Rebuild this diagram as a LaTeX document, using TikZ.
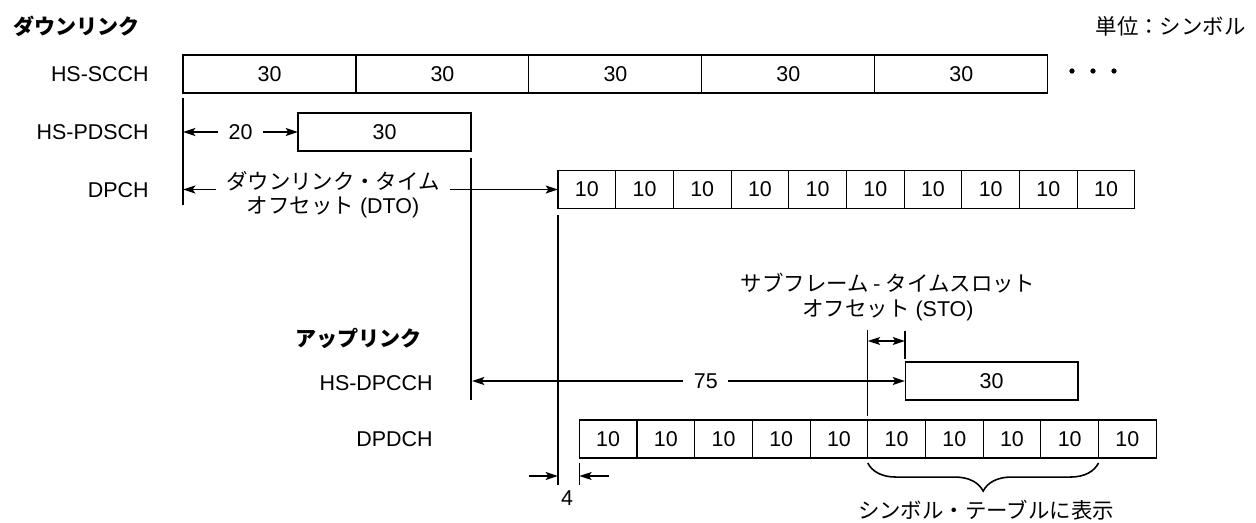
\documentclass[tikz,border=0pt]{standalone}
\usepackage{fontspec}
\setmainfont{Liberation Sans}
\newfontfamily\cjk{Noto Sans CJK JP}
\usetikzlibrary{arrows.meta,positioning,decorations.pathreplacing}

\begin{document}
\begin{tikzpicture}[
    x=0.02cm, y=-0.02cm,
    font=\fontsize{12.2}{14}\selectfont,
    % Stili
    longslot/.style={
        rectangle, draw, line width=0.6pt,
        minimum width=3.46cm, minimum height=0.76cm,
        inner sep=0pt, outer sep=0pt
    },
    shortslot/.style={
        rectangle, draw, line width=0.6pt,
        minimum width=1.154cm, minimum height=0.76cm,
        inner sep=0pt, outer sep=0pt
    },
    chname/.style={anchor=east, inner sep=0pt},
    heading/.style={anchor=west, inner sep=0pt, font=\fontsize{12}{14}\selectfont\cjk\bfseries},
    guide/.style={line width=0.6pt},
    dimarrow/.style={
        {Stealth[length=7pt,width=4.5pt,inset=1.5pt]}-{Stealth[length=7pt,width=4.5pt,inset=1.5pt]},
        line width=1pt
    },
    onearrow/.style={-{Stealth[length=7pt,width=4.5pt,inset=1.5pt]}, line width=1pt},
    dimlabel/.style={fill=white, inner sep=6pt, align=center}
]
\useasboundingbox (0,0) rectangle (1256,523);

% Titoli
\node[heading] (downlink) at (13,26) {ダウンリンク};
\node[heading] (uplink) at (295,338) {アップリンク};
\node[anchor=east, inner sep=0pt] (unit) at (1246,26) {\cjk 単位：シンボル};

% Nomi dei canali
\node[chname] (lbl1) at (149,74) {HS-SCCH};
\node[chname] (lbl2) at (149,132) {HS-PDSCH};
\node[chname] (lbl3) at (149,190) {DPCH};
\node[chname] (lbl4) at (433,383) {HS-DPCCH};
\node[chname] (lbl5) at (433,439) {DPDCH};

% HS-SCCH
\node[longslot] (hsscch1) at (269.5,74) {30};
\node[longslot, right=0pt of hsscch1] (hsscch2) {30};
\node[longslot, right=0pt of hsscch2] (hsscch3) {30};
\node[longslot, right=0pt of hsscch3] (hsscch4) {30};
\node[longslot, right=0pt of hsscch4] (hsscch5) {30};
\fill (1072,71) circle (1.5pt) (1093,71) circle (1.5pt) (1114,71) circle (1.5pt);

% HS-PDSCH
\node[longslot] (hspdsch) at (384.5,132) {30};

% DPCH
\node[shortslot] (dpch1) at (586.85,189.5) {10};
\node[shortslot, right=0pt of dpch1] (dpch2) {10};
\node[shortslot, right=0pt of dpch2] (dpch3) {10};
\node[shortslot, right=0pt of dpch3] (dpch4) {10};
\node[shortslot, right=0pt of dpch4] (dpch5) {10};
\node[shortslot, right=0pt of dpch5] (dpch6) {10};
\node[shortslot, right=0pt of dpch6] (dpch7) {10};
\node[shortslot, right=0pt of dpch7] (dpch8) {10};
\node[shortslot, right=0pt of dpch8] (dpch9) {10};
\node[shortslot, right=0pt of dpch9] (dpch10) {10};

% HS-DPCCH
\node[longslot] (hsdpcch) at (991.5,381) {30};

% DPDCH
\node[shortslot] (dpdch1) at (608.15,439) {10};
\node[shortslot, right=0pt of dpdch1] (dpdch2) {10};
\node[shortslot, right=0pt of dpdch2] (dpdch3) {10};
\node[shortslot, right=0pt of dpdch3] (dpdch4) {10};
\node[shortslot, right=0pt of dpdch4] (dpdch5) {10};
\node[shortslot, right=0pt of dpdch5] (dpdch6) {10};
\node[shortslot, right=0pt of dpdch6] (dpdch7) {10};
\node[shortslot, right=0pt of dpdch7] (dpdch8) {10};
\node[shortslot, right=0pt of dpdch8] (dpdch9) {10};
\node[shortslot, right=0pt of dpdch9] (dpdch10) {10};

% Linee di riferimento
\draw[guide] (183,98) -- (183,205);
\draw[guide] (471,158) -- (471,400);
\draw[guide] (558,215) -- (558,485);
\draw[guide] (579.3,463) -- (579.3,485);
\draw[guide] (867.8,330) -- (867.8,416);
\draw[guide] (905,331) -- (905,359);

% Punti delle quote
\coordinate (pdsch0) at (183,132);
\coordinate (dto0) at (183,189.5);
\coordinate (hs0) at (472,381);
\coordinate (sto0) at (867.8,341);
\coordinate (sto1) at (905,341);
\coordinate (fourL) at (529,476);
\coordinate (fourA) at (558,476);
\coordinate (fourR) at (609,476);
\coordinate (fourB) at (579.3,476);

% Quote
\draw[dimarrow] (pdsch0) -- node[dimlabel] (num20) {20} (hspdsch.west);
\draw[dimarrow] (dto0) -- node[dimlabel, pos=0.4, yshift=-0.1cm] (dto)
    {\cjk ダウンリンク・タイム\\{\cjk オフセット} (DTO)} (dpch1.west);
\draw[dimarrow] (hs0) -- node[dimlabel, pos=0.54] (num75) {75} (hsdpcch.west);
\draw[dimarrow, line width=0.8pt] (sto0) -- (sto1);
\draw[onearrow] (fourL) -- (fourA);
\draw[onearrow] (fourR) -- (fourB);
\node (num4) at (567,498) {4};

% STO
\node[align=center] (sto) at (888,297)
    {\cjk サブフレーム - タイムスロット\\{\cjk オフセット} (STO)};

% Graffa
\draw[line width=0.9pt, decorate, decoration={brace, mirror, amplitude=16pt}]
    ([yshift=-0.1cm]dpdch6.south west) -- ([yshift=-0.1cm]dpdch9.south east);
\node (table) at (986,510) {\cjk シンボル・テーブルに表示};

\end{tikzpicture}
\end{document}
